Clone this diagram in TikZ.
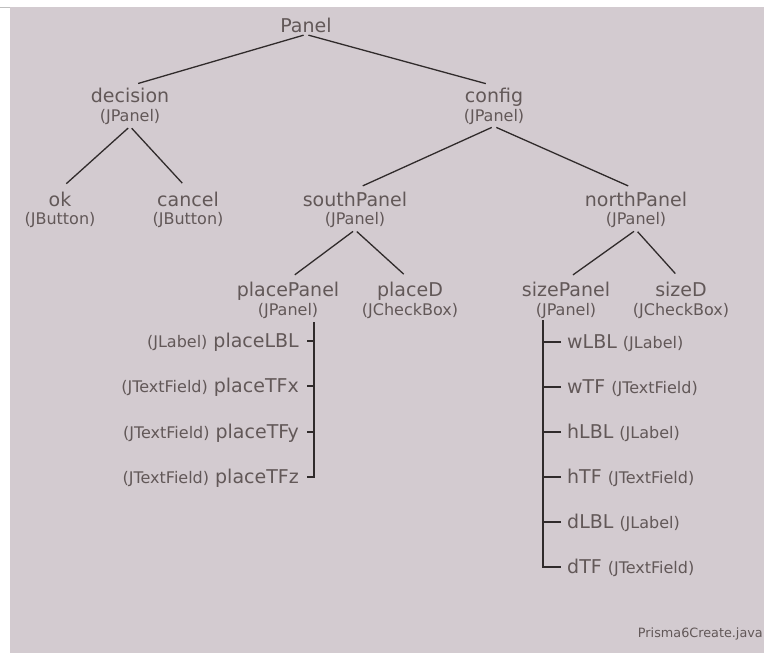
\documentclass[tikz,border=0pt]{standalone}
\usepackage{fontspec}
\setmainfont{DejaVu Sans}
\usetikzlibrary{positioning}
\definecolor{panelbg}{RGB}{211,203,208}
\definecolor{labeltext}{RGB}{98,88,88}
\definecolor{linkline}{RGB}{48,43,43}
\newcommand{\typ}{\fontsize{16}{18.5}\selectfont}
\tikzset{
  comp/.style={align=center,anchor=base,text=labeltext,inner xsep=0pt,inner ysep=2pt,
    font=\fontsize{19}{18.5}\selectfont},
  leaf/.style={text=labeltext,inner sep=0pt,text height=13pt,text depth=0pt,
    font=\fontsize{19}{19}\selectfont},
  branch/.style={draw=linkline,line width=1.3pt,shorten <=2.5pt,shorten >=8.5pt},
  stem/.style={draw=linkline,line width=2pt}
}
\begin{document}
\begin{tikzpicture}[x=1pt,y=-1pt]
    \fill[white] (0,0) rectangle (764,653);
    \useasboundingbox (0,0) rectangle (764,653);
    \fill[panelbg] (10,7) rectangle (764,653);
    \draw[black!25,line width=0.8pt] (0,7) -- (10,7);

    % base anchor sits on the (type) line
    \node [comp] (Panel) at (306,32) {Panel};
    \node [comp] (decision) at (130,121) {decision\\\typ(JPanel)};
    \node [comp] (config) at (494,121) {config\\\typ(JPanel)};
    \node [comp] (ok) at (60,224.5) {ok\\\typ(JButton)};
    \node [comp] (cancel) at (188,224.5) {cancel\\\typ(JButton)};
    \node [comp] (southPanel) at (355,224.5) {southPanel\\\typ(JPanel)};
    \node [comp] (northPanel) at (636,224.5) {northPanel\\\typ(JPanel)};
    \node [comp] (placePanel) at (288,315) {placePanel\\\typ(JPanel)};
    \node [comp] (placeD) at (410,315) {placeD\\\typ(JCheckBox)};
    \node [comp] (sizePanel) at (566,315) {sizePanel\\\typ(JPanel)};
    \node [comp] (sizeD) at (681,315) {sizeD\\\typ(JCheckBox)};

    \draw[branch] (Panel.south) -- (decision.north);
    \draw[branch] (Panel.south) -- (config.north);
    \draw[branch] (decision.south) -- (ok.north);
    \draw[branch] (decision.south) -- (cancel.north);
    \draw[branch] (config.south) -- (southPanel.north);
    \draw[branch] (config.south) -- (northPanel.north);
    \draw[branch] (southPanel.south) -- (placePanel.north);
    \draw[branch] (southPanel.south) -- (placeD.north);
    \draw[branch] (northPanel.south) -- (sizePanel.north);
    \draw[branch] (northPanel.south) -- (sizeD.north);

    % placePanel children, hanging left of the stem
    \coordinate (placeStem) at (314,322);
    \foreach \y/\nm/\cls in {341/placeLBL/JLabel,386.3/placeTFx/JTextField,431.7/placeTFy/JTextField,477/placeTFz/JTextField}{
        \node [leaf,anchor=east] (\nm) at (299,\y) {{\typ(\cls)} \nm};
    }
    \draw[stem] (placeStem) |- ([xshift=8pt]placeTFz.east);
    \foreach \nm in {placeLBL,placeTFx,placeTFy}
        \draw[stem] ([xshift=8pt]\nm.east) -- (\nm.east -| placeStem);

    % sizePanel children, right of the stem
    \coordinate (sizeStem) at (543,320);
    \foreach \y/\nm/\cls in {342/wLBL/JLabel,387/wTF/JTextField,432/hLBL/JLabel,477/hTF/JTextField,522/dLBL/JLabel,567/dTF/JTextField}{
        \node [leaf,anchor=west] (\nm) at (567,\y) {\nm\ {\typ(\cls)}};
    }
    \draw[stem] (sizeStem) |- ([xshift=-6pt]dTF.west);
    \foreach \nm in {wLBL,wTF,hLBL,hTF,dLBL}
        \draw[stem] ([xshift=-6pt]\nm.west) -- (\nm.west -| sizeStem);

    \node [text=labeltext,anchor=base east,inner sep=0pt,font=\fontsize{12.8}{14}\selectfont] (srcName) at (763,637) {Prisma6Create.java};
\end{tikzpicture}
\end{document}
